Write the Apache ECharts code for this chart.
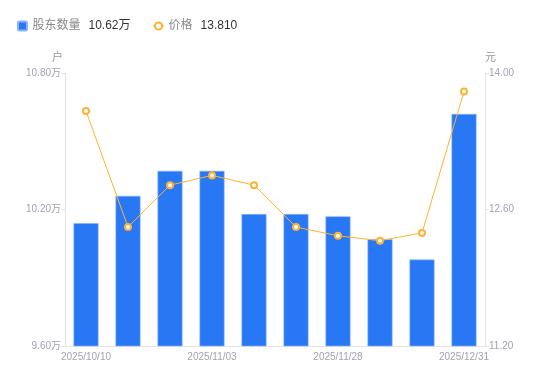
<!DOCTYPE html>
<html><head><meta charset="utf-8">
<script src="https://cdn.jsdelivr.net/npm/echarts@6/dist/echarts.min.js"></script>
<style>html,body{margin:0;padding:0;background:#fff}#c{width:550px;height:381px}</style>
</head><body><div id="c"></div>
<script>
const categories = ['2025/10/10','2025/10/20','2025/10/31','2025/11/03','2025/11/10','2025/11/20','2025/11/28','2025/12/10','2025/12/19','2025/12/31'];
const holders = [10.14, 10.26, 10.37, 10.37, 10.18, 10.18, 10.17, 10.07, 9.98, 10.62];
const prices = [13.61, 12.42, 12.85, 12.95, 12.85, 12.42, 12.33, 12.28, 12.36, 13.81];
const leftTicks = {min: 9.6, max: 10.8, interval: 0.6};
const rightTicks = {min: 11.2, max: 14.0, interval: 1.4};
const latest = {'股东数量': holders[holders.length-1].toFixed(2) + '万', '价格': prices[prices.length-1].toFixed(3)};

const chart = echarts.init(document.getElementById('c'));
const font = 'Liberation Sans, Noto Sans CJK SC, sans-serif';
chart.setOption({
  animation: false,
  textStyle: {fontFamily: font},
  legend: {
    left: 12, top: 15, itemGap: 22, itemWidth: 10, itemHeight: 9,
    data: [{name: '股东数量', icon: 'path://M1.5,0H7.5A1.5,1.5,0,0,1,9,1.5V7.5A1.5,1.5,0,0,1,7.5,9H1.5A1.5,1.5,0,0,1,0,7.5V1.5A1.5,1.5,0,0,1,1.5,0Z'}, {name: '价格'}],
    formatter: n => '{n|' + n + '}{v|' + latest[n] + '}',
    textStyle: {rich: {n: {fontSize: 12, color: '#888', fontFamily: font, padding: [0, 8, 0, 0]}, v: {fontSize: 12, color: '#333', fontFamily: font}}}
  },
  grid: {left: 65, right: 65, top: 73, bottom: 35},
  xAxis: {
    type: 'category', data: categories,
    axisLine: {lineStyle: {color: '#e3e3e3'}},
    axisTick: {show: false},
    axisLabel: {interval: 2, color: '#a0a3b0', fontSize: 10, margin: 6}
  },
  yAxis: [{
    type: 'value', name: '户', min: leftTicks.min, max: leftTicks.max, interval: leftTicks.interval,
    nameTextStyle: {color: '#999', fontSize: 11, align: 'right', padding: [0, 2, 0, 0]}, nameGap: 10,
    axisLine: {show: true, lineStyle: {color: '#e3e3e3'}},
    axisTick: {show: true, length: 4, lineStyle: {color: '#e3e3e3'}},
    splitLine: {show: false},
    axisLabel: {color: '#a0a3b0', fontSize: 10, margin: 4, formatter: v => v.toFixed(2) + '万'}
  }, {
    type: 'value', name: '元', min: rightTicks.min, max: rightTicks.max, interval: rightTicks.interval,
    nameTextStyle: {color: '#999', fontSize: 11, align: 'left'}, nameGap: 10,
    axisLine: {show: true, lineStyle: {color: '#e3e3e3'}},
    axisTick: {show: true, length: 4, lineStyle: {color: '#e3e3e3'}},
    splitLine: {show: false},
    axisLabel: {color: '#a0a3b0', fontSize: 10, margin: 4, formatter: v => v.toFixed(2)}
  }],
  series: [{
    name: '股东数量', type: 'bar', yAxisIndex: 0, data: holders, barWidth: 25,
    itemStyle: {color: '#2878f5', borderColor: '#8ab4f8', borderWidth: 0.6}
  }, {
    name: '价格', type: 'line', yAxisIndex: 1, data: prices,
    symbol: 'emptyCircle', symbolSize: 6,
    lineStyle: {color: '#ffb133', width: 1},
    itemStyle: {color: '#ffb133', borderWidth: 1.5}
  }]
});
</script></body></html>
